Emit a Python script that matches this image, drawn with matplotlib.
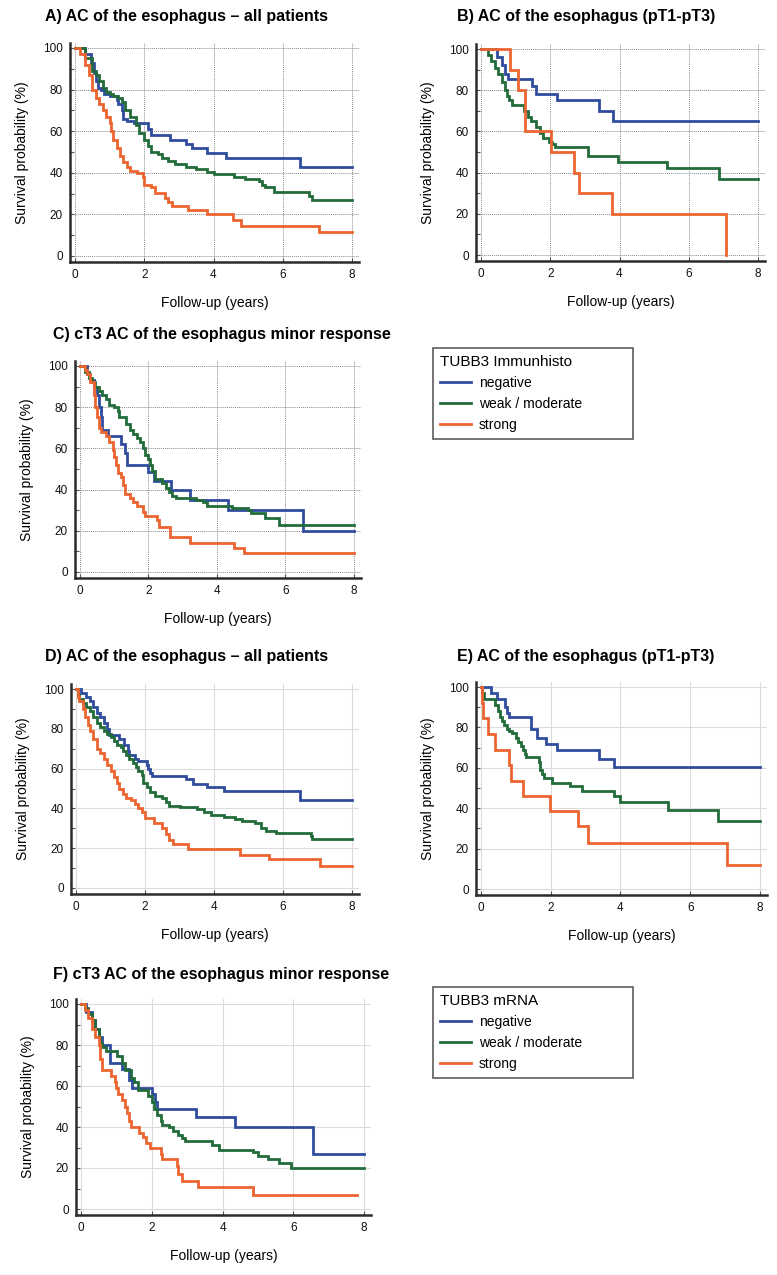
import matplotlib
matplotlib.use("Agg")
import matplotlib.pyplot as plt
from matplotlib.lines import Line2D

plt.rcParams['font.family'] = ['Liberation Sans', 'DejaVu Sans']

# ---- data (years, survival %) ----
groups = ["negative", "weak / moderate", "strong"]
colors = ["#2f4c9e", "#226b3a", "#ec6530"]

# A) AC of the esophagus - all patients (Immunhisto)
a_neg_t = [0, 0.3, 0.45, 0.55, 0.6, 0.65, 0.75, 0.85, 1.0, 1.2, 1.25, 1.35, 1.4, 1.5, 1.7, 2.1, 2.2, 2.75, 3.2, 3.37, 3.8, 4.35, 6.5, 8.0]
a_neg_s = [100, 97, 93, 88, 84, 81, 80, 78, 77, 75, 73, 70, 66, 65, 64, 61, 58, 56, 54, 52, 49.5, 47, 43, 43]
a_weak_t = [0, 0.3, 0.5, 0.6, 0.7, 0.8, 0.9, 1.0, 1.1, 1.25, 1.35, 1.45, 1.6, 1.75, 1.85, 2.0, 2.1, 2.2, 2.4, 2.5,
            2.7, 2.9, 3.2, 3.5, 3.8, 4.0, 4.6, 4.9, 5.3, 5.4, 5.5, 5.75, 6.75, 6.85, 8.0]
a_weak_s = [100, 95, 89, 87, 84, 81, 79, 78, 77, 76, 74, 70, 67, 63, 59, 56, 53, 50, 49, 47,
            45.5, 44, 43, 42, 40.5, 39.5, 38, 37, 36, 34, 33, 31, 29, 27, 27]
a_str_t = [0, 0.15, 0.3, 0.4, 0.5, 0.6, 0.7, 0.8, 0.9, 1.0, 1.05, 1.1, 1.2, 1.3, 1.4, 1.5, 1.6, 1.8, 1.95, 2.0,
           2.2, 2.3, 2.6, 2.7, 2.8, 3.25, 3.8, 4.55, 4.8, 7.05, 8.0]
a_str_s = [100, 97, 92, 87, 80, 76, 73, 70, 67, 64, 60, 56, 52, 48, 45, 43, 41, 40, 38, 34,
           33, 30.5, 28, 26, 24, 22, 20, 17.5, 14.5, 11.5, 11.5]

# B) AC of the esophagus (pT1-pT3) (Immunhisto)
b_neg_t = [0, 0.45, 0.6, 0.7, 0.78, 1.47, 1.6, 2.2, 3.4, 3.8, 8.0]
b_neg_s = [100, 96, 92, 88, 85.5, 82, 78, 75, 70, 65, 65]
b_weak_t = [0, 0.2, 0.3, 0.4, 0.5, 0.6, 0.7, 0.75, 0.8, 0.9, 1.25, 1.35, 1.45, 1.6, 1.7, 1.8, 1.95, 2.05, 2.15, 3.1,
            3.95, 5.37, 6.86, 8.0]
b_weak_s = [100, 97, 94, 91, 88, 84, 80, 77, 75, 73, 70, 67, 65, 62, 59, 57, 55, 54, 52.5, 48,
            45, 42, 37, 37]
b_str_t = [0, 0.85, 1.07, 1.28, 2.03, 2.69, 2.82, 3.78, 7.07]
b_str_s = [100, 90, 80, 60, 50, 40, 30, 20, 0]

# C) cT3 AC of the esophagus minor response (Immunhisto)
c_neg_t = [0, 0.2, 0.3, 0.4, 0.5, 0.55, 0.6, 0.65, 0.83, 1.21, 1.3, 1.36, 1.99, 2.15, 2.67, 3.2, 4.32, 6.5, 8.0]
c_neg_s = [100, 96, 93, 90, 86, 80, 75, 69, 66, 62, 58, 52, 48.5, 44, 40, 35, 30, 20, 20]
c_weak_t = [0, 0.15, 0.25, 0.35, 0.45, 0.55, 0.65, 0.75, 0.85, 1.0, 1.1, 1.15, 1.35, 1.45, 1.55, 1.65, 1.75, 1.85,
            1.9, 2.0, 2.05, 2.1, 2.2, 2.4, 2.5, 2.6, 2.7, 2.8, 3.4, 3.6, 3.7, 4.45, 4.9, 5.0, 5.4, 5.8, 8.0]
c_weak_s = [100, 97, 94, 92, 90, 88, 86, 84, 81, 80, 78, 75, 72, 69, 67, 65, 63, 60,
            57, 55, 52, 49, 45, 43, 41, 39, 37, 36, 35, 34, 32, 31, 30, 28.5, 26, 23, 23]
c_str_t = [0, 0.15, 0.2, 0.3, 0.4, 0.45, 0.5, 0.55, 0.6, 0.75, 0.85, 0.95, 1.0, 1.05, 1.1, 1.2, 1.25, 1.3, 1.45, 1.55,
           1.65, 1.85, 1.9, 2.25, 2.3, 2.62, 3.22, 4.51, 4.8, 8.0]
c_str_s = [100, 98, 96, 92, 86, 80, 75, 70, 68, 66, 63, 59, 56, 52, 48, 46, 42, 38, 36, 34,
           32, 29, 27, 25, 22, 17, 14, 11.5, 9, 9]

# D) AC of the esophagus - all patients (mRNA)
d_neg_t = [0, 0.15, 0.3, 0.4, 0.5, 0.6, 0.7, 0.8, 0.9, 0.95, 1.25, 1.4, 1.5, 1.55, 1.7, 1.8, 2.05, 2.1, 2.15, 2.2,
           3.2, 3.4, 3.8, 4.3, 6.5, 8.0]
d_neg_s = [100, 98, 96, 94, 91, 88, 86, 83, 80, 77, 75, 72, 69, 67, 65, 64, 62, 60, 58, 56.5,
           55, 52.5, 51, 48.5, 44, 44]
d_weak_t = [0, 0.05, 0.1, 0.2, 0.3, 0.4, 0.5, 0.6, 0.7, 0.8, 0.9, 1.0, 1.1, 1.2, 1.3, 1.35, 1.45, 1.55, 1.65, 1.75,
            1.8, 1.9, 1.95, 2.05, 2.15, 2.3, 2.5, 2.6, 2.7, 3.0, 3.5, 3.7, 3.9, 4.3, 4.6, 4.8, 5.2, 5.35, 5.5, 5.8,
            6.8, 6.85, 8.0]
d_weak_s = [100, 97, 95, 93, 91, 89, 86, 83, 81, 79, 77.5, 76, 74, 72, 71, 69, 67, 65, 63, 61,
            59, 57, 53, 51, 48, 46, 45, 43, 41, 40.5, 39.5, 38, 36.5, 35.5, 34.5, 33.5, 32.5, 30, 28.5, 27.5,
            26, 24.5, 24.5]
d_str_t = [0, 0.05, 0.1, 0.2, 0.25, 0.35, 0.4, 0.5, 0.6, 0.7, 0.8, 0.9, 1.0, 1.1, 1.2, 1.25, 1.35, 1.45, 1.6, 1.7,
           1.8, 1.9, 2.0, 2.25, 2.5, 2.6, 2.7, 2.8, 3.25, 4.76, 5.58, 7.06, 8.0]
d_str_s = [100, 96, 94, 90, 86, 82, 79, 75, 70, 68, 65, 62, 59, 56, 53, 50, 47, 45, 44, 42,
           40, 38, 35, 32.5, 30, 27, 24, 22, 19.5, 16.5, 14.5, 11, 11]

# E) AC of the esophagus (pT1-pT3) (mRNA)
e_neg_t = [0, 0.29, 0.45, 0.7, 0.75, 0.8, 1.44, 1.6, 1.87, 2.18, 3.37, 3.8, 8.0]
e_neg_s = [100, 97, 94, 90, 87, 85, 79, 75, 72, 69, 64.5, 60.5, 60.5]
e_weak_t = [0, 0.03, 0.08, 0.41, 0.5, 0.55, 0.6, 0.65, 0.75, 0.8, 0.9, 1.0, 1.05, 1.15, 1.2, 1.25, 1.3, 1.65, 1.7,
            1.75, 1.8, 2.05, 2.55, 2.9, 3.8, 4.0, 5.35, 6.8, 8.0]
e_weak_s = [100, 97, 94, 91, 88, 85, 83, 81, 79, 78, 77, 75, 73, 71, 69, 67, 65.5, 63, 59,
            57, 55, 52.5, 51, 48.5, 46, 43, 39, 33.5, 33.5]
e_str_t = [0, 0.02, 0.05, 0.19, 0.39, 0.79, 0.87, 1.2, 1.97, 2.78, 3.08, 7.05, 8.0]
e_str_s = [100, 92, 84.5, 76.5, 69, 61.5, 53.5, 46, 38.5, 31, 23, 12, 12]

# F) cT3 AC of the esophagus minor response (mRNA)
f_neg_t = [0, 0.15, 0.3, 0.4, 0.5, 0.6, 0.83, 1.15, 1.36, 1.45, 2.0, 2.1, 2.15, 3.25, 4.35, 6.55, 8.0]
f_neg_s = [100, 96, 92, 88, 84, 80, 71, 68.5, 63, 59, 56, 52, 49, 45, 40, 27, 27]
f_weak_t = [0, 0.1, 0.2, 0.3, 0.4, 0.5, 0.55, 0.6, 0.7, 1.03, 1.15, 1.25, 1.4, 1.5, 1.6, 1.9, 2.0, 2.05, 2.15, 2.25,
            2.3, 2.5, 2.6, 2.75, 2.85, 2.95, 3.7, 3.9, 4.85, 5.0, 5.3, 5.6, 5.95, 8.0]
f_weak_s = [100, 98, 95, 92, 88, 84, 81, 79, 77, 74.5, 71, 68, 64, 62, 58, 55, 52, 49, 46, 43,
            41, 40, 38, 36, 34.5, 33, 31, 29, 28, 26, 24.5, 22.5, 20, 20]
f_str_t = [0, 0.1, 0.2, 0.3, 0.4, 0.5, 0.55, 0.6, 0.85, 0.95, 1.0, 1.05, 1.15, 1.25, 1.3, 1.35, 1.4, 1.65, 1.75, 1.85,
           1.95, 2.25, 2.3, 2.7, 2.75, 2.85, 3.3, 4.85, 7.8]
f_str_s = [100, 97, 93, 88, 84, 80, 73, 68, 65, 62, 59, 56, 53, 50, 47, 43, 40, 37, 35, 32,
           30, 27, 24.5, 21, 17, 13.5, 10.5, 7, 7]

titles = ["A) AC of the esophagus \u2013 all patients", "B) AC of the esophagus (pT1-pT3)",
          "C) cT3 AC of the esophagus minor response",
          "D) AC of the esophagus \u2013 all patients", "E) AC of the esophagus (pT1-pT3)",
          "F) cT3 AC of the esophagus minor response"]
legend_titles = ["TUBB3 Immunhisto", "TUBB3 mRNA"]

curves = [
    [(a_neg_t, a_neg_s), (a_weak_t, a_weak_s), (a_str_t, a_str_s)],
    [(b_neg_t, b_neg_s), (b_weak_t, b_weak_s), (b_str_t, b_str_s)],
    [(c_neg_t, c_neg_s), (c_weak_t, c_weak_s), (c_str_t, c_str_s)],
    [(d_neg_t, d_neg_s), (d_weak_t, d_weak_s), (d_str_t, d_str_s)],
    [(e_neg_t, e_neg_s), (e_weak_t, e_weak_s), (e_str_t, e_str_s)],
    [(f_neg_t, f_neg_s), (f_weak_t, f_weak_s), (f_str_t, f_str_s)],
]

# ---- layout (pixels in a 777x1275 image) ----
W, H = 777, 1275
XLIM = (-0.15, 8.2)
YLIM = (-3, 102.5)
# x of t=0, x of t=8, y of 100 %, y of 0 %
panel_px = [(75, 352, 48, 256), (481, 758, 49, 255), (80, 354, 366, 572),
            (76, 352, 689, 888), (481, 760, 687, 889), (81, 364, 1004, 1209)]
title_px = [(45, 17), (457, 17), (53, 335), (45, 657), (457, 657), (53, 975)]
legend_px = [(433, 348, 200), (433, 987, 200)]


def rect(x0, x8, y100, y0):
    sx = (x8 - x0) / 8.0
    sy = (y0 - y100) / 100.0
    left = x0 + XLIM[0] * sx
    right = x0 + XLIM[1] * sx
    top = y0 - YLIM[1] * sy
    bottom = y0 - YLIM[0] * sy
    return [left / W, 1 - bottom / H, (right - left) / W, (bottom - top) / H]


fig = plt.figure(figsize=(W / 100, H / 100), dpi=100)

for i, (px, title, series) in enumerate(zip(panel_px, titles, curves)):
    ax = fig.add_axes(rect(*px))
    for (t, s), c in zip(series, colors):
        ax.step(t, s, where='post', color=c, lw=2.0, solid_joinstyle='miter')
    ax.set_xlim(*XLIM)
    ax.set_ylim(*YLIM)
    ax.set_xticks([0, 2, 4, 6, 8])
    ax.set_yticks([0, 20, 40, 60, 80, 100])
    ax.set_yticks([10, 30, 50, 70, 90], minor=True)
    if i < 3:
        ax.grid(True, color='#8a8a8a', linestyle=(0, (1, 1)), lw=0.7)
    else:
        ax.grid(True, color='#dcdcdc', linestyle='-', lw=0.8)
    ax.set_axisbelow(True)
    for side in ['top', 'right']:
        ax.spines[side].set_visible(False)
    for side in ['left', 'bottom']:
        ax.spines[side].set_color('#2b2b2b')
        ax.spines[side].set_linewidth(1.8)
    ax.tick_params(axis='both', which='major', direction='in', length=3, width=0.8,
                   colors='#555555', labelcolor='#111111', labelsize=8.5, pad=5)
    ax.tick_params(axis='y', which='minor', direction='in', length=3, width=0.8, colors='#555555')
    ax.set_xlabel("Follow-up (years)", fontsize=10, labelpad=11)
    ax.set_ylabel("Survival probability (%)", fontsize=10, labelpad=10)
    fig.text(title_px[i][0] / W, 1 - title_px[i][1] / H, title, fontsize=11.5,
             fontweight='bold', ha='left', va='center')

handles = [Line2D([], [], color=c, lw=2) for c in colors]
for (lx, ly, lw_), lt in zip(legend_px, legend_titles):
    leg = fig.legend(handles, groups, title=lt, loc='upper left',
                     bbox_to_anchor=(lx / W, 1 - ly / H, lw_ / W, 0), mode='expand',
                     borderaxespad=0, fancybox=False, fontsize=10, title_fontsize=11,
                     alignment='left', handlelength=2.2, handletextpad=0.6,
                     labelspacing=0.5, borderpad=0.5)
    leg.get_frame().set_edgecolor('#333333')
    leg.get_frame().set_linewidth(1.2)

fig.savefig("out.png", dpi=100)
